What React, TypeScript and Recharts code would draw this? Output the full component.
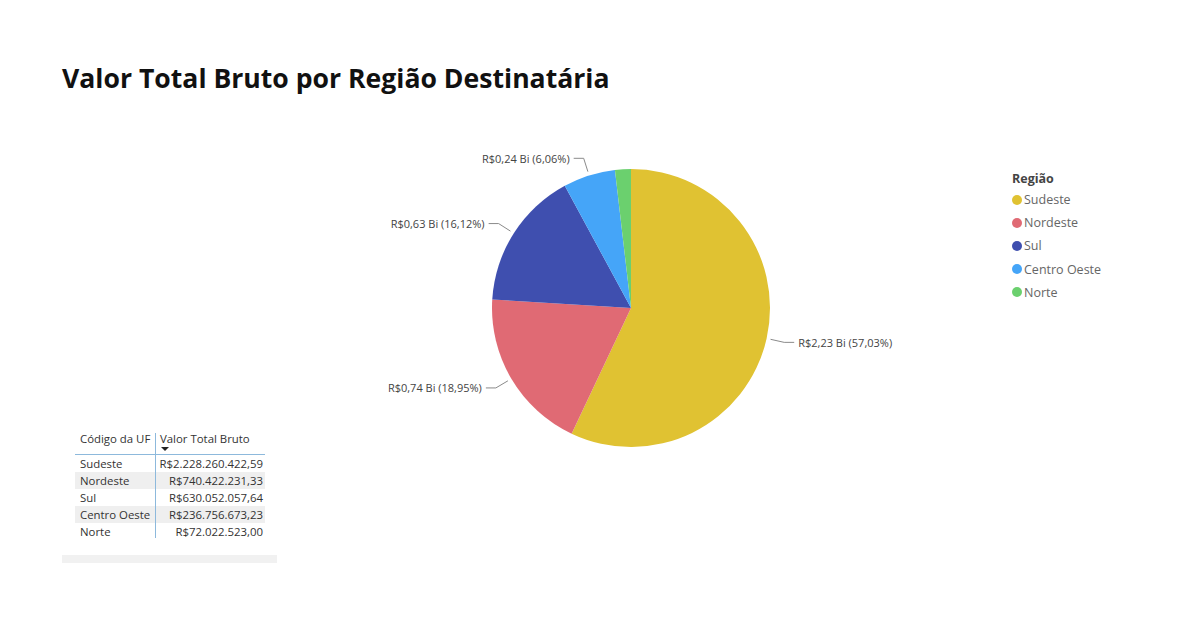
import React from 'react';
import { PieChart, Pie, Cell } from 'recharts';

const regions = ['Sudeste', 'Nordeste', 'Sul', 'Centro Oeste', 'Norte'];
const values = [2228260422.59, 740422231.33, 630052057.64, 236756673.23, 72022523.0];
const tableValues = ['R$2.228.260.422,59', 'R$740.422.231,33', 'R$630.052.057,64', 'R$236.756.673,23', 'R$72.022.523,00'];
const colors = ['#E0C232', '#E06A74', '#3F4FAF', '#45A5F8', '#6BD06E'];
const showLabel = [true, true, true, true, false];

const data = regions.map((name, i) => ({ name, value: values[i] }));

const FONT = '"Open Sans", "Noto Sans", sans-serif';
const RAD = Math.PI / 180;

const fmt = (n: number, d: number) => n.toFixed(d).replace('.', ',');

const renderLabel = (props: any) => {
  const { cx, cy, midAngle, outerRadius, percent, value, index } = props;
  if (!showLabel[index]) return null;
  const cos = Math.cos(-midAngle * RAD);
  const sin = Math.sin(-midAngle * RAD);
  const sx = cx + (outerRadius + 4) * cos;
  const sy = cy + (outerRadius + 4) * sin;
  const mx = cx + (outerRadius + 18) * cos;
  const my = cy + (outerRadius + 18) * sin;
  const dir = cos >= 0 ? 1 : -1;
  const ex = mx + dir * 10;
  const text = `R$${fmt(value / 1e9, 2)} Bi (${fmt(percent * 100, 2)}%)`;
  return (
    <g>
      <polyline points={`${sx},${sy} ${mx},${my} ${ex},${my}`} fill="none" stroke="#8a8a8a" strokeWidth={1} />
      <text x={ex + dir * 4} y={my} textAnchor={dir > 0 ? 'start' : 'end'} dominantBaseline="central"
        fontFamily={FONT} fontSize={11} fill="#444">{text}</text>
    </g>
  );
};

const LegendContent = () => (
  <div style={{ fontFamily: FONT }}>
    <div style={{ fontSize: 12.5, fontWeight: 700, color: '#444', height: 19, lineHeight: '20px' }}>Região</div>
    {regions.map((r, i) => (
      <div key={r} style={{ display: 'flex', alignItems: 'center', height: 23.2, fontSize: 12.5, color: '#666' }}>
        <span style={{ width: 10, height: 10, borderRadius: '50%', background: colors[i], display: 'inline-block', marginRight: 2 }} />
        {r}
      </div>
    ))}
  </div>
);

export default function App() {
  return (
    <div style={{ position: 'absolute', left: 0, top: 0, width: 1200, height: 626, background: '#fff', fontFamily: FONT, overflow: 'hidden' }}>
      <div style={{ position: 'absolute', left: 62, top: 60, fontSize: 26.6, fontWeight: 700, color: '#111', lineHeight: '36px', whiteSpace: 'nowrap' }}>
        Valor Total Bruto por Região Destinatária
      </div>
      <div style={{ position: 'absolute', left: 0, top: 0 }}>
        <PieChart width={1200} height={626} margin={{ top: 0, right: 0, bottom: 0, left: 0 }}>
          <Pie data={data} dataKey="value" nameKey="name" cx={631} cy={308} outerRadius={139}
            startAngle={90} endAngle={-270} stroke="none" label={renderLabel} labelLine={false}
            isAnimationActive={false}>
            {data.map((d, i) => <Cell key={d.name} fill={colors[i]} />)}
          </Pie>
        </PieChart>
      </div>
      <div style={{ position: 'absolute', left: 1012, top: 169, width: 120 }}>
        <LegendContent />
      </div>
      {/* Table */}
      <div style={{ position: 'absolute', left: 75, top: 430, width: 190, fontSize: 11.4, color: '#333' }}>
        <div style={{ position: 'relative', height: 24, borderBottom: '1px solid #8db9dc' }}>
          <span style={{ position: 'absolute', left: 5, top: 0, lineHeight: '18px' }}>Código da UF</span>
          <span style={{ position: 'absolute', left: 85, top: 0, lineHeight: '18px' }}>Valor Total Bruto</span>
          <span style={{ position: 'absolute', left: 86, top: 17, width: 0, height: 0, borderLeft: '4px solid transparent', borderRight: '4px solid transparent', borderTop: '4px solid #222' }} />
        </div>
        {regions.map((r, i) => (
          <div key={r} style={{ position: 'relative', height: 17, background: i % 2 === 1 ? '#efefef' : 'transparent' }}>
            <span style={{ position: 'absolute', left: 5, lineHeight: '17px' }}>{r}</span>
            <span style={{ position: 'absolute', right: 2, lineHeight: '17px' }}>{tableValues[i]}</span>
          </div>
        ))}
        <div style={{ position: 'absolute', left: 80, top: 3, width: 1, height: 105, background: '#8db9dc' }} />
      </div>
      <div style={{ position: 'absolute', left: 62, top: 555, width: 215, height: 8, background: '#f1f1f1' }} />
    </div>
  );
}
